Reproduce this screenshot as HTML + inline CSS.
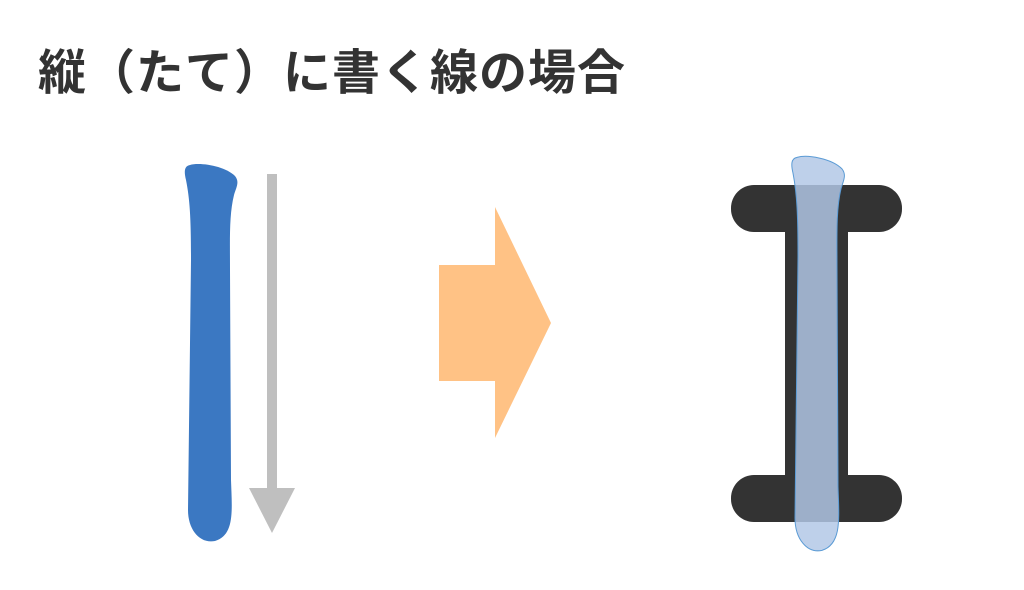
<!DOCTYPE html>
<html><head><meta charset="utf-8"><style>
html,body{margin:0;padding:0;background:#fff;width:1024px;height:590px;overflow:hidden}
.t{position:absolute;left:38px;top:44px;font-family:"Liberation Sans","Noto Sans CJK JP",sans-serif;font-weight:bold;font-size:48px;color:#333;letter-spacing:1px;white-space:nowrap;line-height:60px}
svg{position:absolute;left:0;top:0}
</style></head><body>
<svg width="1024" height="590" viewBox="0 0 1024 590">
<defs>
<path id="st" d="M190,165 C200,162 225,166 235,176 C240,182 236,188 234,195 C229,215 230,240 230,270 L231,480 C232,510 235,535 215,541 C200,544 188,530 188,510 L191,260 C191,220 190,200 186,180 C184,172 184,166 190,165 Z"/>
</defs>
<use href="#st" fill="#3b78c2"/>
<rect x="267" y="174" width="10" height="316" fill="#bfbfbf"/>
<polygon points="249,488 295,488 272,533" fill="#bfbfbf"/>
<polygon points="439,265 495,265 495,207 551,323 495,438 495,381 439,381" fill="#ffc285"/>
<rect x="731" y="185" width="171" height="47" rx="23" fill="#333"/>
<rect x="731" y="475" width="171" height="47" rx="23" fill="#333"/>
<rect x="785" y="200" width="63" height="300" fill="#333"/>
<g transform="translate(607,-15) scale(1,1.045)">
<use href="#st" fill="rgba(177,199,230,0.84)" stroke="#5b9bd5" stroke-width="1"/>
</g>
</svg>
<div class="t">縦（たて）に書く線の場合</div>
</body></html>
